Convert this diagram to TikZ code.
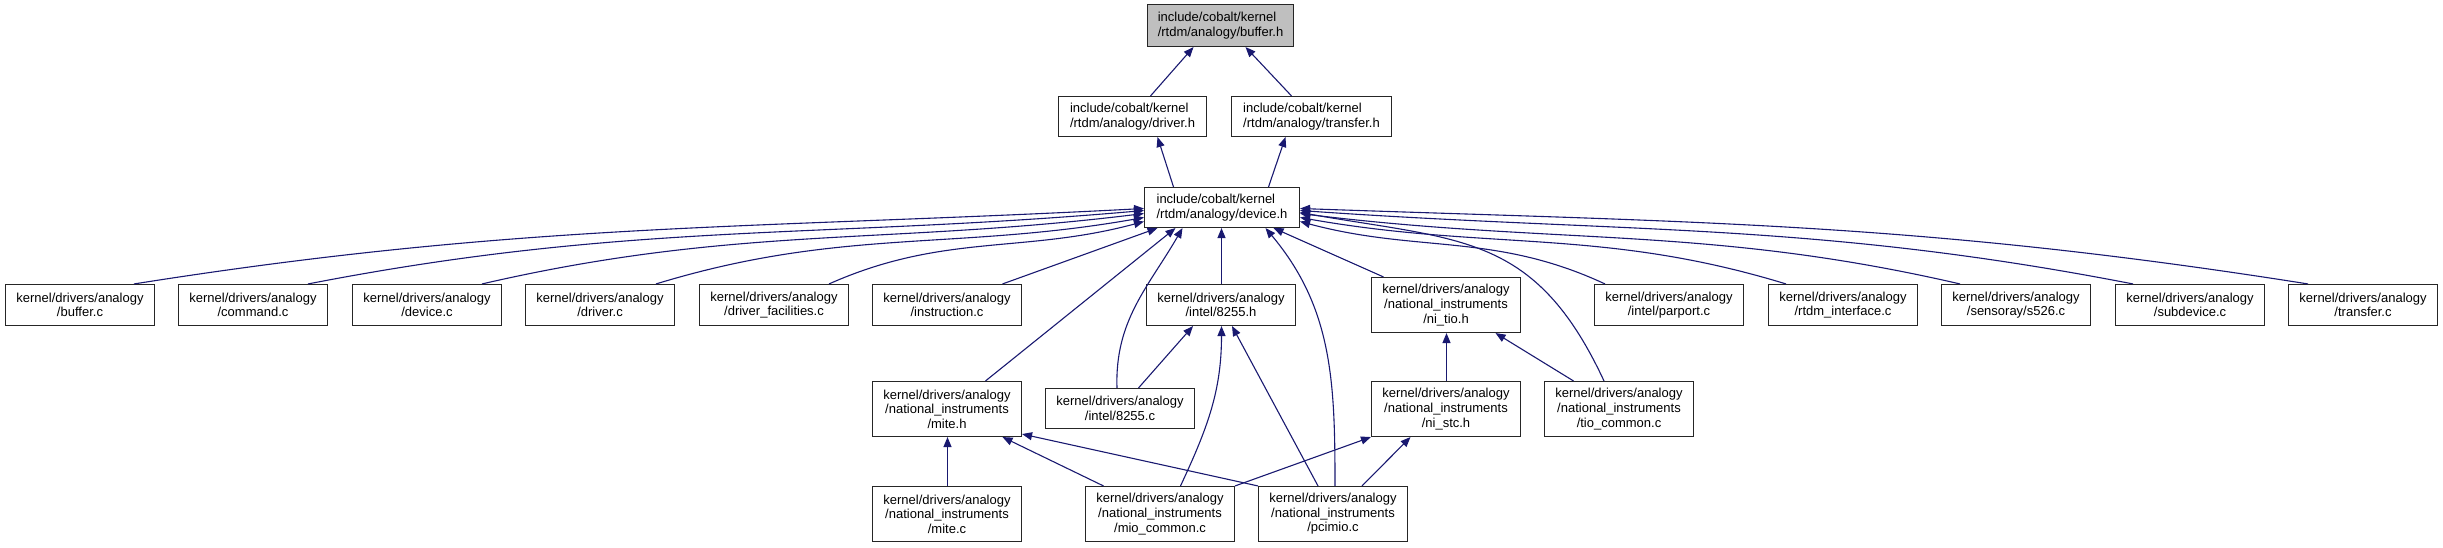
\documentclass[tikz,border=0pt]{standalone}
\usepackage{fontspec}
\setmainfont{Liberation Sans}
\usetikzlibrary{arrows.meta,positioning}
\definecolor{dxblue}{HTML}{191970}
\definecolor{dxgray}{HTML}{BFBFBF}

\begin{document}
\begin{tikzpicture}[x=1pt,y=1pt,font=\fontsize{13}{14.6}\selectfont,
  >={Triangle[length=10pt,width=8pt]},
  fb/.style={draw=black!85,line width=1.1pt,fill=white,inner sep=0pt,
             minimum width=149pt,minimum height=41pt,align=center},
  fb3/.style={fb,minimum height=55pt},
  hb/.style={fb,align=left,minimum height=40pt},
  dep/.style={->,line width=1.1pt,dxblue}]
\useasboundingbox (0,0) rectangle (2443,547);
% ---------------- headers
\node[hb,fill=dxgray,minimum width=146pt,minimum height=42pt] (bufh) at (1220.5,521.5)
  {include/cobalt/kernel\\/rtdm/analogy/buffer.h};
\node[hb,minimum width=148pt] (drvh) at (1132.5,430.5) {include/cobalt/kernel\\/rtdm/analogy/driver.h};
\node[hb,minimum width=160pt] (trnh) at (1311.5,430.5) {include/cobalt/kernel\\/rtdm/analogy/transfer.h};
\node[hb,minimum width=155pt] (devh) at (1222,339.5) {include/cobalt/kernel\\/rtdm/analogy/device.h};
% ---------------- first row
\node[fb] (bufc) at (80,242)   {kernel/drivers/analogy\\/buffer.c};
\node[fb] (cmdc) at (253,242)  {kernel/drivers/analogy\\/command.c};
\node[fb] (devc) at (427,242)  {kernel/drivers/analogy\\/device.c};
\node[fb] (drvc) at (600,242)  {kernel/drivers/analogy\\/driver.c};
\node[fb] (dfac) at (774,242)  {kernel/drivers/analogy\\/driver\_facilities.c};
\node[fb] (insc) at (947,242)  {kernel/drivers/analogy\\/instruction.c};
\node[fb] (i55h) at (1221,242) {kernel/drivers/analogy\\/intel/8255.h};
\node[fb3] (nith) at (1446,242) {kernel/drivers/analogy\\/national\_instruments\\/ni\_tio.h};
\node[fb] (parc) at (1669,242) {kernel/drivers/analogy\\/intel/parport.c};
\node[fb] (rtdc) at (1843,242) {kernel/drivers/analogy\\/rtdm\_interface.c};
\node[fb] (s526) at (2016,242) {kernel/drivers/analogy\\/sensoray/s526.c};
\node[fb] (subc) at (2190,242) {kernel/drivers/analogy\\/subdevice.c};
\node[fb] (trnc) at (2363,242) {kernel/drivers/analogy\\/transfer.c};
% ---------------- second row
\node[fb3] (miteh) at (947,138) {kernel/drivers/analogy\\/national\_instruments\\/mite.h};
\node[fb,minimum height=40pt] (i55c) at (1120,138.5) {kernel/drivers/analogy\\/intel/8255.c};
\node[fb3] (nsth) at (1446,138) {kernel/drivers/analogy\\/national\_instruments\\/ni\_stc.h};
\node[fb3] (tioc) at (1619,138) {kernel/drivers/analogy\\/national\_instruments\\/tio\_common.c};
% ---------------- third row
\node[fb3] (mitec) at (947,33)  {kernel/drivers/analogy\\/national\_instruments\\/mite.c};
\node[fb3] (mioc) at (1160,33)  {kernel/drivers/analogy\\/national\_instruments\\/mio\_common.c};
\node[fb3] (pcic) at (1333,33)  {kernel/drivers/analogy\\/national\_instruments\\/pcimio.c};
% ---------------- edges, top
\draw[dep] ([xshift=18]drvh.north) -- ([xshift=-27]bufh.south);
\draw[dep] ([xshift=-20]trnh.north) -- ([xshift=25]bufh.south);
\draw[dep] ([xshift=-48.5]devh.north) -- ([xshift=25]drvh.south);
\draw[dep] ([xshift=46.5]devh.north) -- ([xshift=-26]trnh.south);
% ---------------- edges into device.h
\draw[dep] ([xshift=54]bufc.north) to[out=9,in=183]  ([yshift=-1]devh.west);
\draw[dep] ([xshift=55]cmdc.north) to[out=11,in=185] ([yshift=-3]devh.west);
\draw[dep] ([xshift=55]devc.north) to[out=13,in=187] ([yshift=-6]devh.west);
\draw[dep] ([xshift=56]drvc.north) to[out=17,in=190] ([yshift=-10]devh.west);
\draw[dep] ([xshift=55]dfac.north) to[out=24,in=195] ([yshift=-14]devh.west);
\draw[dep] ([xshift=55.5]insc.north) -- ([xshift=-64.5]devh.south);
\draw[dep] ([xshift=38.5]miteh.north) -- ([xshift=-46.5]devh.south);
\draw[dep] ([xshift=-3]i55c.north) to[out=92,in=-120] ([xshift=-39.5]devh.south);
\draw[dep] ([xshift=0.5]i55h.north) -- ([xshift=-0.5]devh.south);
\draw[dep] ([xshift=2]pcic.north) to[out=90,in=-50] ([xshift=43.5]devh.south);
\draw[dep] ([xshift=-62.5]nith.north) -- ([xshift=51.5]devh.south);
\draw[dep] ([xshift=-15]tioc.north) to[out=115,in=-10,looseness=1.2] ([yshift=-5]devh.east);
\draw[dep] ([xshift=-64]parc.north) to[out=155,in=-15] ([yshift=-14]devh.east);
\draw[dep] ([xshift=-57]rtdc.north) to[out=163,in=-10] ([yshift=-10]devh.east);
\draw[dep] ([xshift=-56]s526.north) to[out=167,in=-7]  ([yshift=-6]devh.east);
\draw[dep] ([xshift=-57]subc.north) to[out=169,in=-4]  ([yshift=-3]devh.east);
\draw[dep] ([xshift=-55]trnc.north) to[out=171,in=-2]  ([yshift=-1]devh.east);
% ---------------- edges, lower part
\draw[dep] ([xshift=18.5]i55c.north) -- ([xshift=-28]i55h.south);
\draw[dep] ([xshift=20.5]mioc.north) to[out=65,in=-90] ([xshift=0.5]i55h.south);
\draw[dep] ([xshift=-15]pcic.north) -- ([xshift=11]i55h.south);
\draw[dep] ([xshift=0.5]nsth.north) -- ([xshift=0.5]nith.south);
\draw[dep] ([xshift=-45.5]tioc.north) -- ([xshift=49.5]nith.south);
\draw[dep] ([xshift=0.5]mitec.north) -- ([xshift=0.5]miteh.south);
\draw[dep] ([xshift=-56.5]mioc.north) -- ([xshift=55.5]miteh.south);
\draw[dep] (pcic.north west) -- ([yshift=3]miteh.south east);
\draw[dep] (mioc.north east) -- (nsth.south west);
\draw[dep] ([xshift=29]pcic.north) -- ([xshift=-35.5]nsth.south);
\end{tikzpicture}
\end{document}
